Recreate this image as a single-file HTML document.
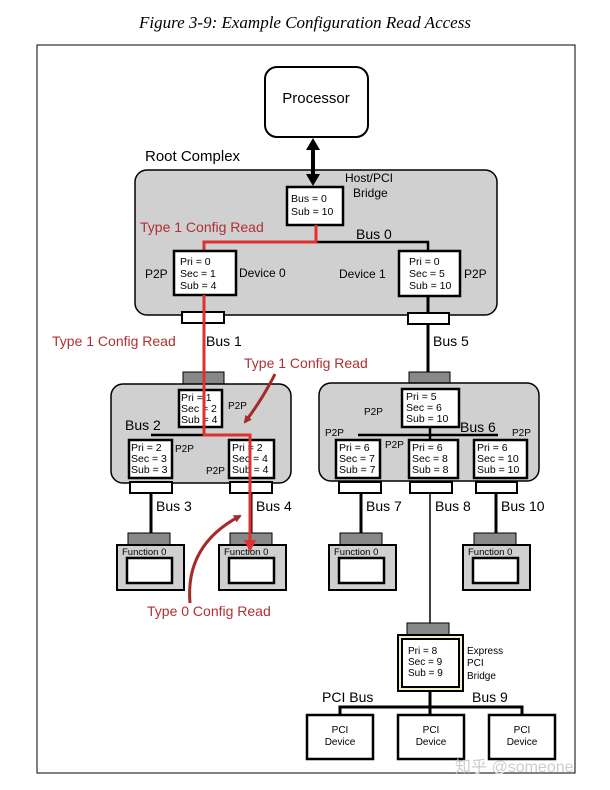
<!DOCTYPE html>
<html><head><style>
body{margin:0;background:#fff}
svg{display:block}
text{font-family:"Liberation Sans",sans-serif}
</style></head><body>
<svg width="610" height="790" viewBox="0 0 610 790" xmlns="http://www.w3.org/2000/svg">
<defs>
<marker id="ar" markerWidth="8" markerHeight="8" refX="6" refY="4" orient="auto" markerUnits="userSpaceOnUse"><path d="M0,0 L8,4 L0,8 z" fill="#a52a2a"/></marker>
<marker id="rr" markerWidth="12" markerHeight="12" refX="10" refY="6" orient="auto" markerUnits="userSpaceOnUse"><path d="M0,0 L12,6 L0,12 z" fill="#e03030"/></marker>
</defs>
<text x="305" y="28" text-anchor="middle" font-style="italic" font-size="17" style="font-family:'Liberation Serif',serif">Figure 3-9: Example Configuration Read Access</text>
<path d="M37,45 H575 V773 H37 Z" fill="none" stroke="#000" stroke-width="1"/>
<rect x="265" y="67" width="103" height="70" rx="12" fill="#fff" stroke="#000" stroke-width="2"/>
<text x="316" y="103" text-anchor="middle" font-size="15">Processor</text>
<text x="145" y="161" font-size="15">Root Complex</text>
<rect x="135" y="170" width="362" height="145" rx="12" fill="#d0d0d0" stroke="#000" stroke-width="1.5"/>
<line x1="313" y1="150" x2="313" y2="174" stroke="#000" stroke-width="4"/>
<path d="M306,150 L313,138 L320,150 Z M306,174 L313,186 L320,174 Z" fill="#000"/>
<rect x="287" y="187" width="56" height="38" fill="#fff" stroke="#000" stroke-width="2.5"/>
<text x="291" y="202" font-size="10.5">Bus = 0</text><text x="291" y="215" font-size="10.5">Sub = 10</text>
<text x="345" y="182" font-size="12">Host/PCI</text><text x="353" y="197" font-size="12">Bridge</text>
<text x="140" y="232" font-size="14" fill="#b03030">Type 1 Config Read</text>
<text x="356" y="239" font-size="14">Bus 0</text>
<polyline points="316,242 428,242 428,251" fill="none" stroke="#000" stroke-width="2.5"/>
<polyline points="316,225 316,242 204,242 204,251" fill="none" stroke="#e03030" stroke-width="3"/>
<rect x="174" y="251" width="62" height="44" fill="#fff" stroke="#000" stroke-width="2.5"/>
<text x="180" y="265" font-size="10.5">Pri = 0</text><text x="180" y="277" font-size="10.5">Sec = 1</text><text x="180" y="289" font-size="10.5">Sub = 4</text>
<text x="145" y="278" font-size="12">P2P</text><text x="239" y="277" font-size="12">Device 0</text>
<rect x="399" y="251" width="61" height="45" fill="#fff" stroke="#000" stroke-width="2.5"/>
<text x="409" y="265" font-size="10.5">Pri = 0</text><text x="409" y="277" font-size="10.5">Sec = 5</text><text x="409" y="289" font-size="10.5">Sub = 10</text>
<text x="339" y="278" font-size="12">Device 1</text><text x="464" y="278" font-size="12">P2P</text>
<line x1="428" y1="296" x2="428" y2="372" stroke="#000" stroke-width="3"/>
<rect x="182" y="312" width="42" height="11" fill="#fff" stroke="#000" stroke-width="2"/>
<rect x="408" y="313" width="41" height="11" fill="#fff" stroke="#000" stroke-width="2"/>
<text x="52" y="346" font-size="14" fill="#b03030">Type 1 Config Read</text>
<text x="206" y="346" font-size="14">Bus 1</text>
<text x="433" y="346" font-size="14">Bus 5</text>
<rect x="183" y="372" width="41" height="12" fill="#888" stroke="#000" stroke-width="1"/>
<rect x="111" y="384" width="180" height="99" rx="12" fill="#d0d0d0" stroke="#000" stroke-width="1.5"/>
<rect x="179" y="390" width="43" height="37" fill="#fff" stroke="#000" stroke-width="2.5"/>
<text x="181" y="401" font-size="10.5">Pri = 1</text><text x="181" y="412" font-size="10.5">Sec = 2</text><text x="181" y="423" font-size="10.5">Sub = 4</text>
<text x="228" y="409" font-size="10">P2P</text>
<text x="125" y="430" font-size="14">Bus 2</text>
<line x1="151" y1="435" x2="250" y2="435" stroke="#000" stroke-width="2.5"/>
<rect x="129" y="440" width="43" height="38" fill="#fff" stroke="#000" stroke-width="2.5"/>
<text x="131" y="451" font-size="10.5">Pri = 2</text><text x="131" y="462" font-size="10.5">Sec = 3</text><text x="131" y="473" font-size="10.5">Sub = 3</text>
<text x="175" y="452" font-size="10">P2P</text>
<rect x="229" y="440" width="45" height="38" fill="#fff" stroke="#000" stroke-width="2.5"/>
<text x="232" y="451" font-size="10.5">Pri = 2</text><text x="232" y="462" font-size="10.5">Sec = 4</text><text x="232" y="473" font-size="10.5">Sub = 4</text>
<text x="206" y="474" font-size="10">P2P</text>
<rect x="130" y="482" width="42" height="11" fill="#fff" stroke="#000" stroke-width="2"/>
<rect x="230" y="482" width="42" height="11" fill="#fff" stroke="#000" stroke-width="2"/>
<line x1="151" y1="493" x2="151" y2="534" stroke="#000" stroke-width="3"/>
<line x1="251" y1="493" x2="251" y2="534" stroke="#000" stroke-width="3"/>
<text x="156" y="511" font-size="14">Bus 3</text><text x="256" y="511" font-size="14">Bus 4</text>
<rect x="409" y="372" width="41" height="12" fill="#888" stroke="#000" stroke-width="1"/>
<rect x="319" y="383" width="220" height="98" rx="12" fill="#d0d0d0" stroke="#000" stroke-width="1.5"/>
<rect x="402" y="389" width="57" height="38" fill="#fff" stroke="#000" stroke-width="2.5"/>
<text x="406" y="400" font-size="10.5">Pri = 5</text><text x="406" y="411" font-size="10.5">Sec = 6</text><text x="406" y="422" font-size="10.5">Sub = 10</text>
<text x="364" y="415" font-size="10">P2P</text>
<text x="460" y="432" font-size="14">Bus 6</text>
<text x="325" y="436" font-size="10">P2P</text><text x="512" y="436" font-size="10">P2P</text><text x="385" y="448" font-size="10">P2P</text>
<line x1="358" y1="435" x2="498" y2="435" stroke="#000" stroke-width="2.5"/>
<line x1="430" y1="427" x2="430" y2="440" stroke="#000" stroke-width="2.5"/>
<rect x="336" y="440" width="44" height="38" fill="#fff" stroke="#000" stroke-width="2.5"/>
<text x="339" y="451" font-size="10.5">Pri = 6</text><text x="339" y="462" font-size="10.5">Sec = 7</text><text x="339" y="473" font-size="10.5">Sub = 7</text>
<rect x="409" y="440" width="49" height="38" fill="#fff" stroke="#000" stroke-width="2.5"/>
<text x="412" y="451" font-size="10.5">Pri = 6</text><text x="412" y="462" font-size="10.5">Sec = 8</text><text x="412" y="473" font-size="10.5">Sub = 8</text>
<rect x="474" y="440" width="53" height="38" fill="#fff" stroke="#000" stroke-width="2.5"/>
<text x="477" y="451" font-size="10.5">Pri = 6</text><text x="477" y="462" font-size="10.5">Sec = 10</text><text x="477" y="473" font-size="10.5">Sub = 10</text>
<rect x="339" y="482" width="42" height="11" fill="#fff" stroke="#000" stroke-width="2"/>
<rect x="410" y="482" width="42" height="11" fill="#fff" stroke="#000" stroke-width="2"/>
<rect x="476" y="482" width="41" height="11" fill="#fff" stroke="#000" stroke-width="2"/>
<line x1="361" y1="493" x2="361" y2="534" stroke="#000" stroke-width="3"/>
<line x1="430" y1="493" x2="430" y2="623" stroke="#000" stroke-width="1.5"/>
<line x1="496" y1="493" x2="496" y2="534" stroke="#000" stroke-width="3"/>
<text x="366" y="511" font-size="14">Bus 7</text><text x="435" y="511" font-size="14">Bus 8</text><text x="501" y="511" font-size="14">Bus 10</text>
<g id="f">
<rect x="128" y="533" width="42" height="12" fill="#888" stroke="#000"/>
<rect x="117" y="545" width="67" height="45" fill="#d0d0d0" stroke="#000" stroke-width="2"/>
<rect x="127" y="558" width="45" height="25" fill="#fff" stroke="#000" stroke-width="2.5"/>
<text x="122" y="555" font-size="9.5">Function 0</text>
</g>
<use href="#f" x="102"/>
<use href="#f" x="212"/>
<use href="#f" x="346"/>
<polyline points="204,295 204,435 250,435 250,550" fill="none" stroke="#e03030" stroke-width="3" marker-end="url(#rr)"/>
<text x="244" y="368" font-size="14" fill="#b03030">Type 1 Config Read</text>
<path d="M275,374 Q262,400 245,422" fill="none" stroke="#a52a2a" stroke-width="3" marker-end="url(#ar)"/>
<path d="M190,603 Q185,545 240,516" fill="none" stroke="#a52a2a" stroke-width="3" marker-end="url(#ar)"/>
<text x="147" y="616" font-size="14" fill="#b03030">Type 0 Config Read</text>
<rect x="407" y="623" width="42" height="12" fill="#888" stroke="#000"/>
<rect x="398" y="635" width="65" height="56" fill="#f5f0c0" stroke="#000" stroke-width="2"/>
<rect x="402" y="639" width="57" height="48" fill="#fff" stroke="#000" stroke-width="2"/>
<text x="408" y="654" font-size="10">Pri = 8</text><text x="408" y="665" font-size="10">Sec = 9</text><text x="408" y="676" font-size="10">Sub = 9</text>
<text x="467" y="654" font-size="10">Express</text><text x="467" y="666" font-size="10">PCI</text><text x="467" y="679" font-size="10">Bridge</text>
<line x1="430" y1="691" x2="430" y2="707" stroke="#000" stroke-width="3"/>
<text x="322" y="702" font-size="14">PCI Bus</text><text x="472" y="702" font-size="14">Bus 9</text>
<polyline points="340,715 340,707 522,707 522,715" fill="none" stroke="#000" stroke-width="3"/>
<line x1="430" y1="707" x2="430" y2="715" stroke="#000" stroke-width="3"/>
<rect x="307" y="715" width="66" height="44" fill="#fff" stroke="#000" stroke-width="2.5"/>
<rect x="398" y="715" width="66" height="44" fill="#fff" stroke="#000" stroke-width="2.5"/>
<rect x="489" y="715" width="66" height="44" fill="#fff" stroke="#000" stroke-width="2.5"/>
<g font-size="10" text-anchor="middle">
<text x="340" y="733">PCI</text><text x="340" y="745">Device</text>
<text x="431" y="733">PCI</text><text x="431" y="745">Device</text>
<text x="522" y="733">PCI</text><text x="522" y="745">Device</text>
</g>
<text x="455" y="772" font-size="16" fill="#ccc" style="font-family:'Liberation Sans','Noto Sans CJK SC',sans-serif">知乎 @someone</text>
</svg>
</body></html>
